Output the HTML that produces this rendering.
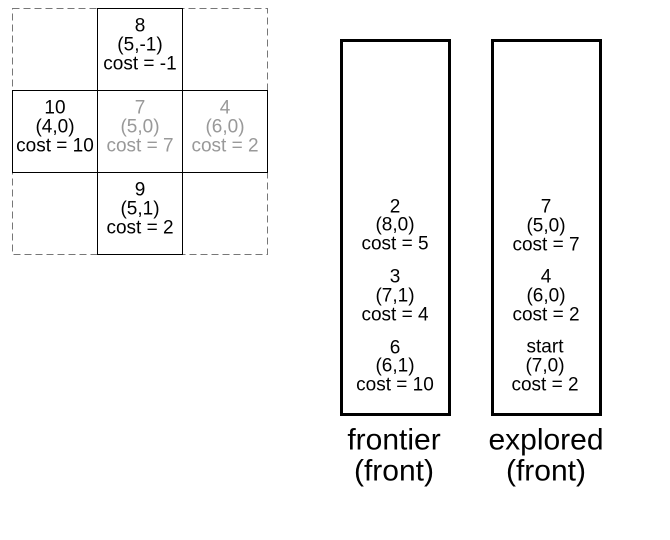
<!DOCTYPE html>
<html><head><meta charset="utf-8"><style>
html,body{margin:0;padding:0;background:#fff;width:670px;height:540px;overflow:hidden}
svg{display:block;font-family:"Liberation Sans",Arial,sans-serif}
</style></head><body>
<svg width="670" height="540" viewBox="0 0 670 540">
<g>
  <rect x="12.5" y="8.5" width="255" height="246" fill="none" stroke="#777" stroke-width="1" stroke-dasharray="7,4"/>
  <line x1="97.5" y1="8.5" x2="97.5" y2="254.5" stroke="#777" stroke-dasharray="7,4"/>
  <line x1="182.5" y1="8.5" x2="182.5" y2="254.5" stroke="#777" stroke-dasharray="7,4"/>
  <line x1="12.5" y1="90.5" x2="267.5" y2="90.5" stroke="#777" stroke-dasharray="7,4"/>
  <line x1="12.5" y1="172.5" x2="267.5" y2="172.5" stroke="#777" stroke-dasharray="7,4"/>
  <rect x="97.5" y="8.5" width="85" height="82" fill="#fff" stroke="#000"/>
  <rect x="12.5" y="90.5" width="255" height="82" fill="#fff" stroke="#000"/>
  <line x1="97.5" y1="90.5" x2="97.5" y2="172.5" stroke="#000"/>
  <line x1="182.5" y1="90.5" x2="182.5" y2="172.5" stroke="#000"/>
  <rect x="97.5" y="172.5" width="85" height="82" fill="#fff" stroke="#000"/>
  <g font-size="19" text-anchor="middle" dominant-baseline="central">
    <g fill="#000"><text x="140" y="26">8</text><text x="140" y="45">(5,-1)</text><text x="140" y="64">cost = -1</text></g>
    <g fill="#000"><text x="55" y="108">10</text><text x="55" y="127">(4,0)</text><text x="55" y="146">cost = 10</text></g>
    <g fill="#999"><text x="140" y="108">7</text><text x="140" y="127">(5,0)</text><text x="140" y="146">cost = 7</text></g>
    <g fill="#999"><text x="225" y="108">4</text><text x="225" y="127">(6,0)</text><text x="225" y="146">cost = 2</text></g>
    <g fill="#000"><text x="140" y="190">9</text><text x="140" y="209">(5,1)</text><text x="140" y="228">cost = 2</text></g>
  </g>
</g>
<g>
  <rect x="341.5" y="40.5" width="108" height="374" fill="none" stroke="#000" stroke-width="3"/>
  <g font-size="19" text-anchor="middle" dominant-baseline="central">
    <g><text x="395" y="207">2</text><text x="395" y="225">(8,0)</text><text x="395" y="244">cost = 5</text></g>
    <g><text x="395" y="277">3</text><text x="395" y="296">(7,1)</text><text x="395" y="315">cost = 4</text></g>
    <g><text x="395" y="348">6</text><text x="395" y="366">(6,1)</text><text x="395" y="385">cost = 10</text></g>
  </g>
  <g font-size="30" text-anchor="middle" dominant-baseline="central"><text x="394" y="440">frontier</text><text x="394" y="471">(front)</text></g>
</g>
<g>
  <rect x="492.5" y="40.5" width="108" height="374" fill="none" stroke="#000" stroke-width="3"/>
  <g font-size="19" text-anchor="middle" dominant-baseline="central">
    <g><text x="546" y="207">7</text><text x="546" y="226">(5,0)</text><text x="546" y="245">cost = 7</text></g>
    <g><text x="546" y="277">4</text><text x="546" y="296">(6,0)</text><text x="546" y="315">cost = 2</text></g>
    <g><text x="545" y="347">start</text><text x="545" y="366">(7,0)</text><text x="545" y="385">cost = 2</text></g>
  </g>
  <g font-size="30" text-anchor="middle" dominant-baseline="central"><text x="546" y="440">explored</text><text x="546" y="471">(front)</text></g>
</g>
</svg>
</body></html>
